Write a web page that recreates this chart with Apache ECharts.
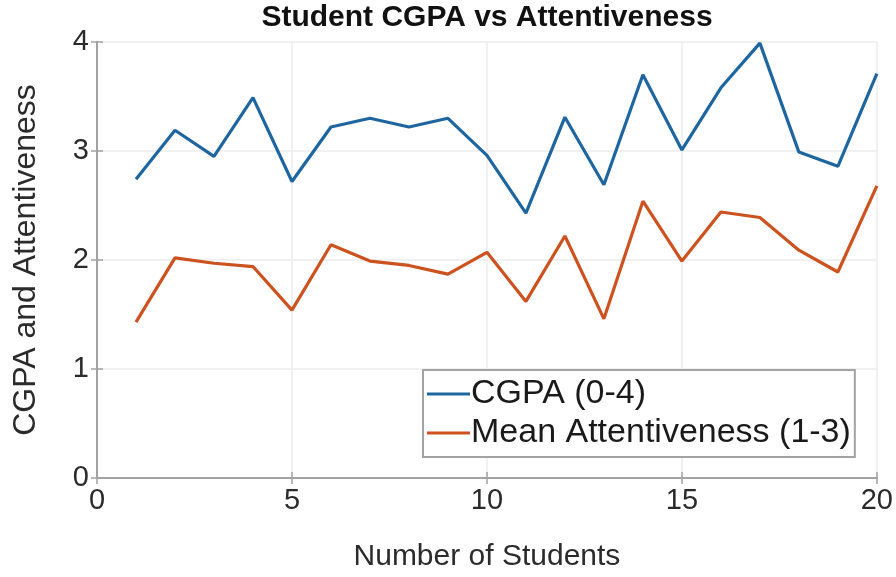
<!DOCTYPE html>
<html>
<head>
<meta charset="utf-8">
<title>Student CGPA vs Attentiveness</title>
<script src="https://cdn.jsdelivr.net/npm/echarts@6/dist/echarts.min.js"></script>
<style>
  html, body { margin: 0; padding: 0; background: #ffffff; }
  #chart { width: 896px; height: 577px; }
</style>
</head>
<body>
<div id="chart"></div>
<script>
// Student index (x) and the two measured series
const students = [1, 2, 3, 4, 5, 6, 7, 8, 9, 10, 11, 12, 13, 14, 15, 16, 17, 18, 19, 20];
const cgpa = [2.74, 3.19, 2.95, 3.49, 2.72, 3.22, 3.30, 3.22, 3.30, 2.96, 2.43, 3.31, 2.69, 3.70, 3.01, 3.58, 3.99, 2.99, 2.86, 3.71];
const attentiveness = [1.43, 2.02, 1.97, 1.94, 1.54, 2.14, 1.99, 1.95, 1.87, 2.07, 1.62, 2.22, 1.46, 2.54, 1.99, 2.44, 2.39, 2.09, 1.89, 2.68];

const seriesNames = ['CGPA (0-4)', 'Mean Attentiveness (1-3)'];
const chartTitle = 'Student CGPA vs Attentiveness';
const xName = 'Number of Students';
const yName = 'CGPA and Attentiveness';

const FONT = '"Liberation Sans", Arial, Helvetica, sans-serif';
const AXIS_GREY = '#a3a3a3';
const TEXT_GREY = '#2b2b2b';
const BLUE = '#1f66a0';
const ORANGE = '#cc5220';

const pairs = (ys) => students.map((x, i) => [x, ys[i]]);

const chart = echarts.init(document.getElementById('chart'), null, { renderer: 'canvas' });

// hidden companion axes give the box its top/right tick marks
const boxAxis = {
  min: 0,
  axisLine: { show: true, lineStyle: { color: AXIS_GREY, width: 2 } },
  axisTick: { show: true, inside: true, length: 6, lineStyle: { color: AXIS_GREY, width: 1.5 } },
  axisLabel: { show: false },
  splitLine: { show: false }
};

chart.setOption({
  animation: false,
  backgroundColor: '#ffffff',
  textStyle: { fontFamily: FONT },
  title: {
    text: chartTitle,
    left: 487,
    textAlign: 'center',
    top: 3,
    padding: 0,
    textStyle: { fontFamily: FONT, fontSize: 30, fontWeight: 'bold', color: '#111111' }
  },
  grid: { left: 97, right: 18, top: 42, bottom: 99, containLabel: false },
  legend: {
    data: seriesNames,
    orient: 'vertical',
    left: 423,
    top: 370,
    padding: [6, 4, 6, 4],
    itemGap: 3,
    itemWidth: 43,
    itemHeight: 3,
    icon: 'rect',
    backgroundColor: '#ffffff',
    borderColor: AXIS_GREY,
    borderWidth: 2,
    borderRadius: 0,
    textStyle: { fontFamily: FONT, fontSize: 34, color: '#1a1a1a', lineHeight: 36, padding: [0, 0, 0, -4] }
  },
  xAxis: [
    {
      type: 'value',
      min: 0,
      max: 20,
      interval: 5,
      name: xName,
      nameLocation: 'middle',
      nameGap: 64,
      nameTextStyle: { fontFamily: FONT, fontSize: 30, color: TEXT_GREY },
      axisLine: { show: true, onZero: false, lineStyle: { color: AXIS_GREY, width: 2 } },
      axisTick: { show: true, inside: true, length: 6, lineStyle: { color: AXIS_GREY, width: 1.5 } },
      axisLabel: { fontFamily: FONT, fontSize: 29, color: TEXT_GREY, margin: 8 },
      splitLine: { show: true, lineStyle: { color: '#ececec', width: 1.5 } }
    },
    Object.assign({ type: 'value', position: 'top', max: 20, interval: 5 }, boxAxis)
  ],
  yAxis: [
    {
      type: 'value',
      min: 0,
      max: 4,
      interval: 1,
      name: yName,
      nameLocation: 'middle',
      nameGap: 55,
      nameTextStyle: { fontFamily: FONT, fontSize: 32, color: TEXT_GREY },
      axisLine: { show: true, onZero: false, lineStyle: { color: AXIS_GREY, width: 2 } },
      axisTick: { show: true, inside: true, length: 6, lineStyle: { color: AXIS_GREY, width: 1.5 } },
      axisLabel: { fontFamily: FONT, fontSize: 29, color: TEXT_GREY, margin: 8 },
      splitLine: { show: true, lineStyle: { color: '#ececec', width: 1.5 } }
    },
    Object.assign({ type: 'value', position: 'right', max: 4, interval: 1 }, boxAxis)
  ],
  series: [
    {
      name: seriesNames[0],
      type: 'line',
      data: pairs(cgpa),
      symbol: 'none',
      lineStyle: { color: BLUE, width: 3.2 },
      itemStyle: { color: BLUE },
      z: 3
    },
    {
      name: seriesNames[1],
      type: 'line',
      data: pairs(attentiveness),
      symbol: 'none',
      lineStyle: { color: ORANGE, width: 3.2 },
      itemStyle: { color: ORANGE },
      z: 3
    }
  ]
});
</script>
</body>
</html>
